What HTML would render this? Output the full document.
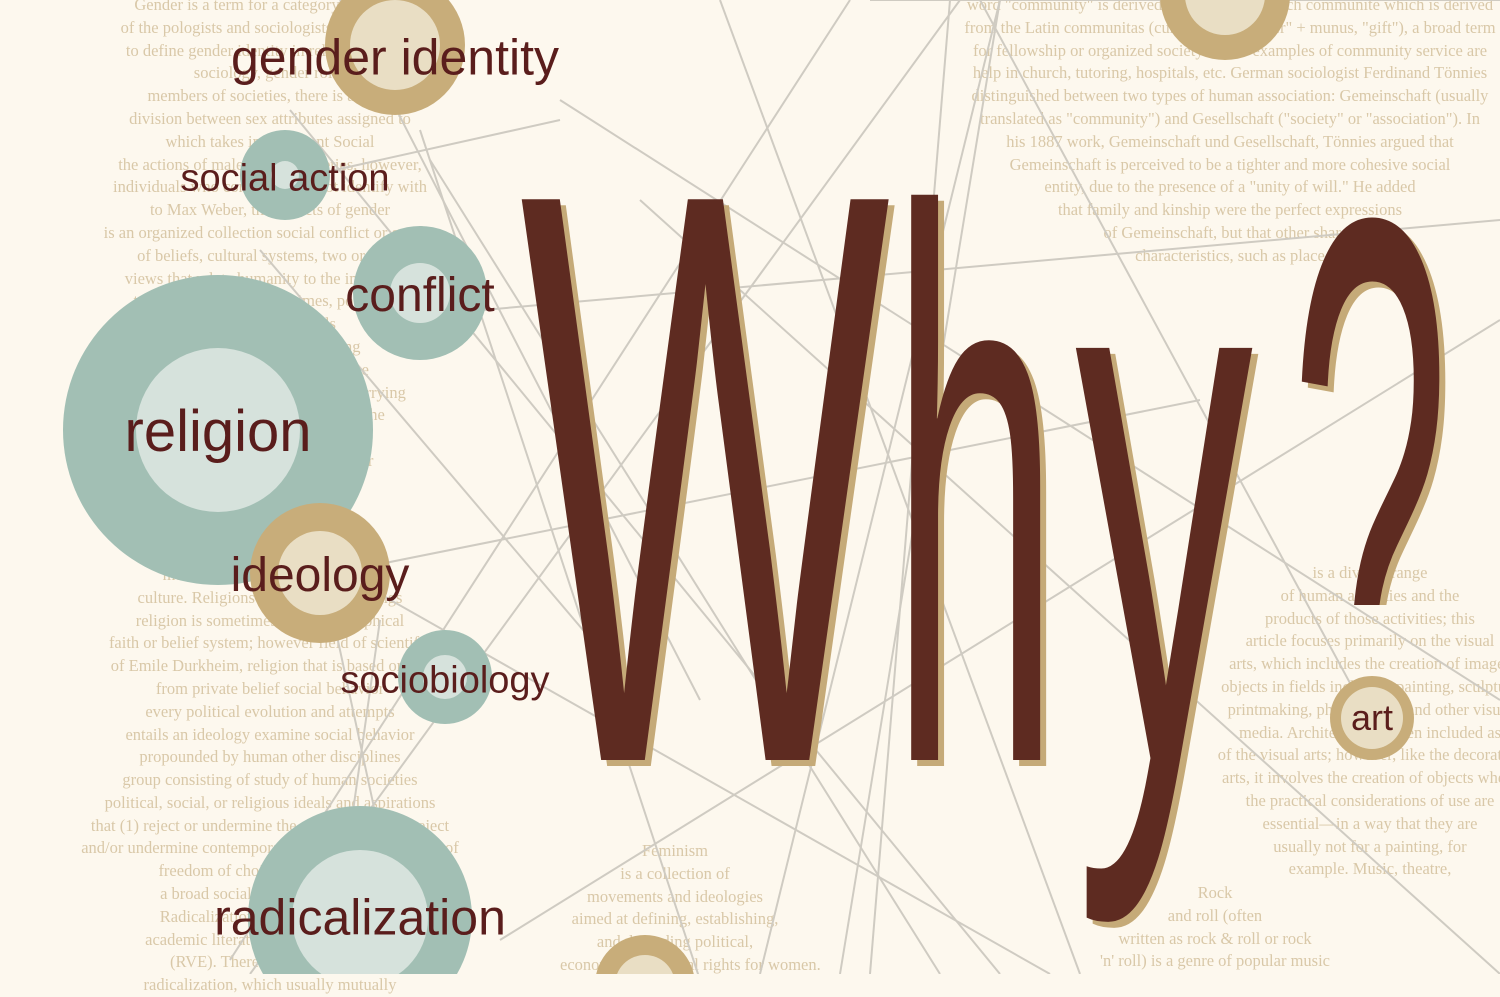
<!DOCTYPE html>
<html><head><meta charset="utf-8">
<style>
html,body{margin:0;padding:0;}
body{width:1500px;height:974px;overflow:hidden;background:#fdf8ee;position:relative;font-family:"Liberation Serif",serif;}
.bg{position:absolute;color:#d9c8a8;font-size:16.5px;line-height:22.8px;text-align:center;white-space:nowrap;}
svg{position:absolute;left:0;top:0;}
</style></head><body>
<div class="bg" style="left:-40px;top:-6px;width:620px;">
Gender is a term for a category of people<br>
of the pologists and sociologists have a set of<br>
to define gender identity in relation to other<br>
sociology, gender roles<br>
members of societies, there is a basic<br>
division between sex attributes assigned to<br>
which takes into account Social<br>
the actions of males. In all societies, however,<br>
individuals who conflict is the not identify with<br>
to Max Weber, the aspects of gender<br>
is an organized collection social conflict or gender<br>
of beliefs, cultural systems, two or more<br>
views that relate humanity to the interaction<br>
to spirituality and, sometimes, power in a<br>
religions have goals<br>
that are intended remaining<br>
explain the origin wherein the<br>
the cosmos and intentionally for carrying<br>
religious laws own will against the<br>
are roughly estimates<br>
organized beliefs other party or<br>
membership consciousness<br>
also include adherence<br>
gods or goals, a religion<br>
funeral services, ideology is a<br>
music, art, dance generation of a<br>
culture. Religions may looking at things<br>
religion is sometimes used philosophical<br>
faith or belief system; however field of scientific<br>
of Emile Durkheim, religion that is based on the<br>
from private belief social behavior<br>
every political evolution and attempts<br>
entails an ideology examine social behavior<br>
propounded by human other disciplines<br>
group consisting of study of human societies<br>
political, social, or religious ideals and aspirations<br>
that (1) reject or undermine the status quo or (2) reject<br>
and/or undermine contemporary ideas and expressions of<br>
freedom of choice. originate from<br>
a broad social changes in society.<br>
Radicalization can although most<br>
academic literature violent extremism<br>
(RVE). There is the process of<br>
radicalization, which usually mutually
</div>
<div class="bg" style="left:930px;top:-6px;width:600px;">
word "community" is derived from the Old French communité which is derived<br>
from the Latin communitas (cum, "with/together" + munus, "gift"), a broad term<br>
for fellowship or organized society. Some examples of community service are<br>
help in church, tutoring, hospitals, etc. German sociologist Ferdinand Tönnies<br>
distinguished between two types of human association: Gemeinschaft (usually<br>
translated as "community") and Gesellschaft ("society" or "association"). In<br>
his 1887 work, Gemeinschaft und Gesellschaft, Tönnies argued that<br>
Gemeinschaft is perceived to be a tighter and more cohesive social<br>
entity, due to the presence of a "unity of will." He added<br>
that family and kinship were the perfect expressions<br>
of Gemeinschaft, but that other shared<br>
characteristics, such as place
</div>
<div class="bg" style="left:1190px;top:562px;width:360px;">
is a diverse range<br>
of human activities and the<br>
products of those activities; this<br>
article focuses primarily on the visual<br>
arts, which includes the creation of images<br>
objects in fields including painting, sculpture<br>
printmaking, photography, and other visual<br>
media. Architecture is often included as<br>
of the visual arts; however, like the decorative<br>
arts, it involves the creation of objects where<br>
the practical considerations of use are<br>
essential—in a way that they are<br>
usually not for a painting, for<br>
example. Music, theatre,
</div>
<div class="bg" style="left:560px;top:840px;width:230px;">
Feminism<br>is a collection of<br>movements and ideologies<br>aimed at defining, establishing,<br>and defending political,<br>economic, and social rights for women.
</div>
<div class="bg" style="left:1090px;top:882px;width:250px;">
Rock<br>and roll (often<br>written as rock &amp; roll or rock<br>'n' roll) is a genre of popular music
</div>
<svg width="1500" height="974" id="art">
<defs><clipPath id="qclip"><rect x="1250" y="150" width="250" height="455"/></clipPath></defs>
</svg>
<script>
const labels=["gender identity","social action","conflict","religion","ideology","sociobiology","radicalization","art","",""];
const cx=[395,285,420,218,320,445,360,1372,1225,645];
const cy=[45,175,293,430,573,677,918,718,-5,985];
const outerR=[70,45,67,155,70,47,112,42,65,50];
const innerR=[45,14,30,82,42,22,68,31,40,30];
const kind=["tan","teal","teal","teal","tan","teal","teal","tan","tan","tan"];
const fontSize=[50,38,48,58,48,38,50,36,0,0];
const labelDy=[13,3,2,2,2,3,0,0,0,0];
const lineFrom=[[340,0],[980,0],[850,0],[870,0],[640,200],[430,160],[260,280],[290,110],[300,580],[290,180],[370,320],[500,940],[700,980],[1000,0],[950,0],[560,100],[320,560],[600,650],[250,974],[840,974],[1080,974],[380,620]];
const lineTo=[[700,700],[1370,720],[230,960],[1500,0],[1500,974],[940,974],[410,974],[1000,974],[1200,400],[560,120],[1500,220],[1500,320],[420,130],[760,974],[870,974],[1500,700],[1050,974],[260,250],[960,0],[1000,0],[720,0],[330,974]];
const svg=document.getElementById('art');
const NS='http://www.w3.org/2000/svg';
for(let i=0;i<lineFrom.length;i++){
 const l=document.createElementNS(NS,'line');
 
 
 l.setAttribute('x1',lineFrom[i][0]);l.setAttribute('y1',lineFrom[i][1]);
 l.setAttribute('x2',lineTo[i][0]);l.setAttribute('y2',lineTo[i][1]);
 l.setAttribute('stroke','#cfcbc2');l.setAttribute('stroke-width','2');
 svg.appendChild(l);
}
for(let i=0;i<labels.length;i++){
 const g=document.createElementNS(NS,'g');
 
 
 const o=document.createElementNS(NS,'circle');
 
 
 o.setAttribute('cx',cx[i]);o.setAttribute('cy',cy[i]);o.setAttribute('r',outerR[i]);
 o.setAttribute('fill',kind[i]==='tan'?'#c8ad7a':'#a2bfb4');
 g.appendChild(o);
 const c=document.createElementNS(NS,'circle');
 
 
 c.setAttribute('cx',cx[i]);c.setAttribute('cy',cy[i]);c.setAttribute('r',innerR[i]);
 c.setAttribute('fill',kind[i]==='tan'?'#e9dec4':'#d6e2dc');
 g.appendChild(c);
 svg.appendChild(g);
}
const letters=["W","h","y","?"];
const lx=[520,890,1075,1290];
const lw=[370,170,178,160];
const lsize=[815,780,780,820];
const lbase=[760,760,760,790];
for(const pass of [0,1]){
 for(let i=0;i<letters.length;i++){
  const t=document.createElementNS(NS,'text');
  
  
  t.setAttribute('x',lx[i]+(pass?0:6));t.setAttribute('y',lbase[i]+(pass?0:6));
  t.setAttribute('font-size',lsize[i]);
  t.setAttribute('textLength',lw[i]);t.setAttribute('lengthAdjust','spacingAndGlyphs');
  t.setAttribute('font-family','Liberation Sans, sans-serif');
  t.setAttribute('fill',pass?'#5e2b21':'#c5aa78');
  if(letters[i]==='?')t.setAttribute('clip-path','url(#qclip)');
  t.textContent=letters[i];svg.appendChild(t);
 }
}
for(let i=0;i<labels.length;i++){
 if(!labels[i])continue;
 const t=document.createElementNS(NS,'text');
 
 
 t.setAttribute('x',cx[i]);t.setAttribute('y',cy[i]+fontSize[i]*0.33+labelDy[i]);
 t.setAttribute('text-anchor','middle');t.setAttribute('font-size',fontSize[i]);
 t.setAttribute('font-family','Liberation Sans, sans-serif');t.setAttribute('fill','#5a1d1c');
 t.textContent=labels[i];svg.appendChild(t);
}
</script>
</body></html>
